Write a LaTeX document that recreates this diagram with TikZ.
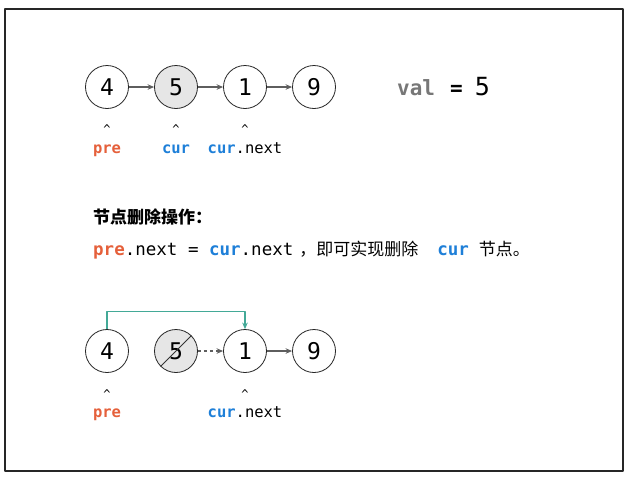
\documentclass[tikz,border=0pt]{standalone}
\usepackage{fontspec}
\setmonofont{DejaVu Sans Mono}
\newfontfamily\cjk{Noto Sans CJK SC}
\usetikzlibrary{arrows.meta}
\definecolor{prered}{HTML}{E5603B}
\definecolor{curblue}{HTML}{1E7FD8}
\definecolor{linkgreen}{HTML}{43A997}
\definecolor{arrgray}{HTML}{5E5E5E}
\definecolor{valgray}{HTML}{777777}
\definecolor{delgray}{HTML}{E6E6E6}
\newcommand{\prelbl}{{\bfseries\color{prered}pre}}
\newcommand{\curlbl}{{\bfseries\color{curblue}cur}}
\begin{document}
\begin{tikzpicture}[x=1pt, y=-1pt, font=\ttfamily, line join=round, >={Stealth[length=6.5pt,width=5.5pt]},
	circ/.style={circle, draw=black!85, line width=0.8pt, fill=white, minimum size=43pt, inner sep=0pt, font=\fontsize{23}{23}\selectfont\ttfamily},
	link/.style={->, draw=arrgray, line width=1.1pt},
	caret/.style={anchor=base, font=\fontsize{12}{12}\selectfont\ttfamily},
	lbl/.style={anchor=base, font=\fontsize{15.5}{15.5}\selectfont\ttfamily},
	txt/.style={anchor=base west, inner sep=0pt, font=\fontsize{17.5}{17.5}\selectfont\ttfamily}]
				\useasboundingbox (0,0) rectangle (633,480);
				\draw[line width=1.3pt, draw=black!85] (5,9) rectangle (623,471);
				% list before deletion
				\node[circ] (a4) at (107,87) {4};
				\node[circ, fill=delgray] (a5) at (176,87) {5};
				\node[circ] (a1) at (245,87) {1};
				\node[circ] (a9) at (314,87) {9};
				\draw[link] (a4) -- (a5);
				\draw[link] (a5) -- (a1);
				\draw[link] (a1) -- (a9);
				\node[caret] (c1) at (107,133) {\^{}};
				\node[caret] (c2) at (176,133) {\^{}};
				\node[caret] (c3) at (245,133) {\^{}};
				\node[lbl] (l1) at (107,153) {\prelbl};
				\node[lbl] (l2) at (176,153) {\curlbl};
				\node[lbl] (l3) at (245,153) {\curlbl.next};
				\node[anchor=base west, inner sep=0pt, font=\fontsize{21}{21}\selectfont\ttfamily] (val) at (397,95) {{\bfseries\color{valgray}val}\hspace{15pt}{\bfseries =}\hspace{12pt}{\fontsize{25}{25}\selectfont 5}};
				% text
				\node[txt, font=\fontsize{17}{17}\selectfont\cjk\bfseries] (head) at (93,223) {节点删除操作：};
				\node[txt] (op) at (93,255) {\prelbl.next = \curlbl.next\hspace{6pt}{\fontsize{17}{17}\selectfont\cjk ，即可实现删除}\hspace{19pt}\curlbl\hspace{10pt}{\fontsize{17}{17}\selectfont\cjk 节点。}};
				% list after deletion
				\node[circ] (b4) at (107,351) {4};
				\node[circ, fill=delgray] (b5) at (176,351) {5};
				\node[circ] (b1) at (245,351) {1};
				\node[circ] (b9) at (314,351) {9};
				\draw[line width=0.9pt, draw=black!80] (b5.south west) -- (b5.north east);
				\draw[link, dashed, dash pattern=on 3.5pt off 2.5pt] (b5) -- (b1);
				\draw[link] (b1) -- (b9);
				\draw[->, draw=linkgreen, line width=1.4pt] (b4.north) -- ++(0,-17.5) -| (b1.north);
				\node[caret] (d1) at (107,398) {\^{}};
				\node[caret] (d3) at (245,398) {\^{}};
				\node[lbl] (m1) at (107,417) {\prelbl};
				\node[lbl] (m3) at (245,417) {\curlbl.next};
			\end{tikzpicture}
\end{document}
